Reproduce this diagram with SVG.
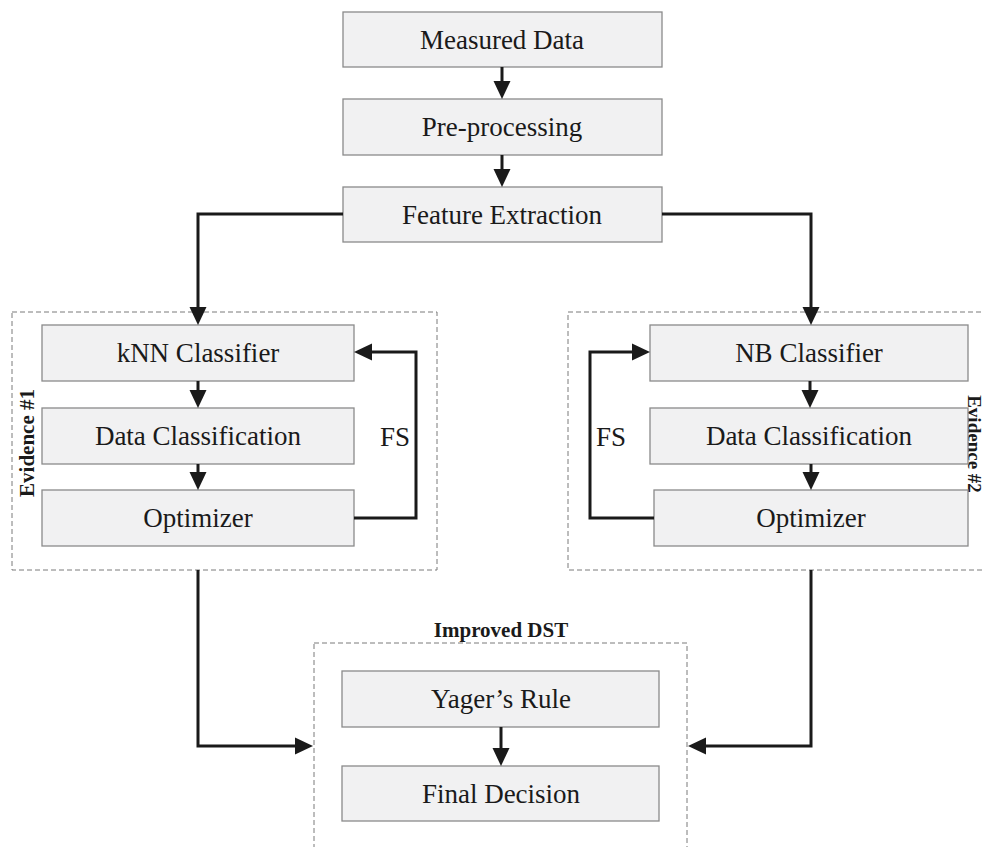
<svg xmlns="http://www.w3.org/2000/svg" width="984" height="847" viewBox="0 0 984 847">
<style>
.box{fill:#f1f1f2;stroke:#8a8a8a;stroke-width:1.3}
.grp{fill:none;stroke:#7a7a7a;stroke-width:1;stroke-dasharray:5 3}
.lbl{font-family:"Liberation Serif","Times New Roman",serif;font-size:27px;fill:#1a1a1a;text-anchor:middle}
.ttl{font-family:"Liberation Serif","Times New Roman",serif;font-size:21px;font-weight:bold;fill:#1a1a1a;text-anchor:middle}
.con{fill:none;stroke:#1a1a1a;stroke-width:3;marker-end:url(#ah)}
</style>
<defs>
<marker id="ah" markerUnits="userSpaceOnUse" viewBox="0 0 18 18" markerWidth="18" markerHeight="18" refX="2" refY="9" orient="auto">
<path d="M0,0.5 L18,9 L0,17.5 z" fill="#1a1a1a"/>
</marker>
</defs>
<rect width="984" height="847" fill="#ffffff"/>
<g id="groups">
<g id="evidence1"><rect class="grp" x="12" y="312" width="425" height="258"/><text class="ttl" transform="translate(34,443) rotate(-90)">Evidence #1</text></g>
<g id="evidence2"><rect class="grp" x="568" y="312" width="430" height="258"/><text class="ttl" style="font-size:19px" transform="translate(968,444) rotate(90)">Evidence #2</text></g>
<g id="improved-dst"><rect class="grp" x="314" y="643" width="373" height="230"/><text class="ttl" x="501" y="637">Improved DST</text></g>
</g>
<g id="measured-data"><rect class="box" x="343" y="12" width="319" height="55"/><text class="lbl" x="502" y="49">Measured Data</text></g>
<g id="pre-processing"><rect class="box" x="343" y="99" width="319" height="56"/><text class="lbl" x="502" y="136">Pre-processing</text></g>
<g id="feature-extraction"><rect class="box" x="343" y="187" width="319" height="55"/><text class="lbl" x="502" y="224">Feature Extraction</text></g>
<g id="knn"><rect class="box" x="42" y="325" width="312" height="56"/><text class="lbl" x="198" y="362">kNN Classifier</text></g>
<g id="data-class-1"><rect class="box" x="42" y="408" width="312" height="56"/><text class="lbl" x="198" y="445">Data Classification</text></g>
<g id="optimizer-1"><rect class="box" x="42" y="490" width="312" height="56"/><text class="lbl" x="198" y="527">Optimizer</text></g>
<g id="nb"><rect class="box" x="650" y="325" width="318" height="56"/><text class="lbl" x="809" y="362">NB Classifier</text></g>
<g id="data-class-2"><rect class="box" x="650" y="408" width="318" height="56"/><text class="lbl" x="809" y="445">Data Classification</text></g>
<g id="optimizer-2"><rect class="box" x="654" y="490" width="314" height="56"/><text class="lbl" x="811" y="527">Optimizer</text></g>
<g id="yager"><rect class="box" x="342" y="671" width="317" height="56"/><text class="lbl" x="501" y="708">Yager’s Rule</text></g>
<g id="final-decision"><rect class="box" x="342" y="766" width="317" height="55"/><text class="lbl" x="501" y="803">Final Decision</text></g>
<g id="connectors">
<path class="con" d="M502,67 V83"/>
<path class="con" d="M502,155 V171"/>
<path class="con" d="M343,214 H198 V309"/>
<path class="con" d="M662,214 H811 V309"/>
<path class="con" d="M198,381 V392"/>
<path class="con" d="M198,464 V474"/>
<path class="con" d="M810,381 V392"/>
<path class="con" d="M811,464 V474"/>
<path class="con" d="M354,518 H416 V352 H370"/>
<path class="con" d="M654,518 H590 V352 H634"/>
<path class="con" d="M198,570 V746 H297"/>
<path class="con" d="M811,570 V746 H704"/>
<path class="con" d="M501,727 V750"/>
<text class="lbl" x="395" y="446">FS</text>
<text class="lbl" x="611" y="446">FS</text>
</g>
</svg>
